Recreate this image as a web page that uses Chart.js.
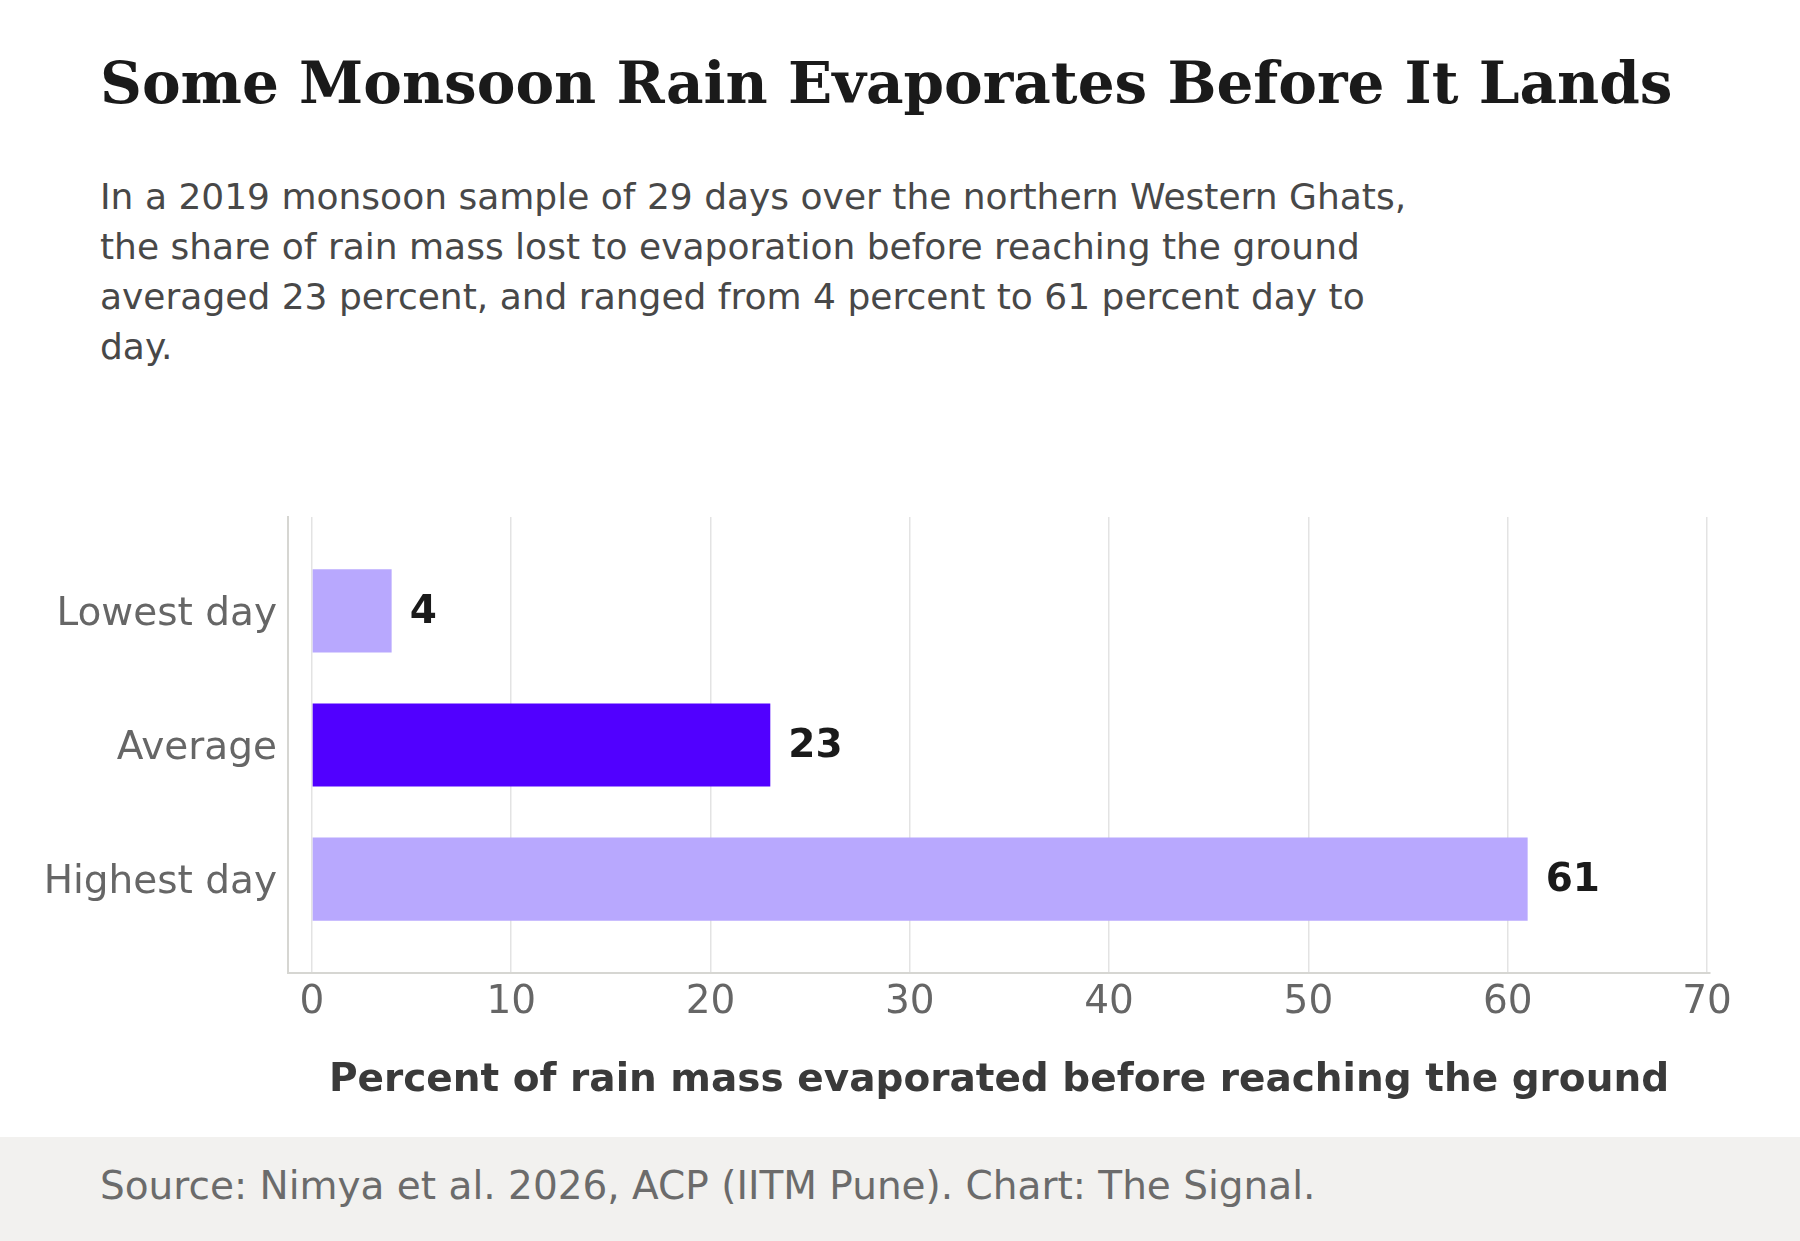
<!DOCTYPE html>
<html>
<head>
<meta charset="utf-8">
<script src="https://cdn.jsdelivr.net/npm/chart.js@4"></script>
<style>
  html, body { margin: 0; padding: 0; background: #ffffff; }
  body { width: 1800px; height: 1241px; position: relative; overflow: hidden; font-family: 'DejaVu Sans', sans-serif; }
  #title { position: absolute; left: 100px; top: 49px; margin: 0; font-family: 'DejaVu Serif', serif; font-weight: bold; font-size: 58px; line-height: normal; color: #1a1a1a; white-space: nowrap; }
  #subtitle { position: absolute; left: 100px; top: 172px; margin: 0; font-size: 36px; line-height: 50px; color: #484848; white-space: nowrap; }
  #footer { position: absolute; left: 0; top: 1137px; width: 1800px; height: 104px; background: #f2f1ef; }
  #source { position: absolute; left: 100px; top: 1163px; font-size: 39px; line-height: normal; color: #6b6b6b; white-space: nowrap; }
  #wrap { position: absolute; left: 0; top: 480px; width: 1800px; height: 657px; }
</style>
</head>
<body>
<h1 id="title">Some Monsoon Rain Evaporates Before It Lands</h1>
<p id="subtitle">In a 2019 monsoon sample of 29 days over the northern Western Ghats,<br>the share of rain mass lost to evaporation before reaching the ground<br>averaged 23 percent, and ranged from 4 percent to 61 percent day to<br>day.</p>
<div id="footer"></div>
<div id="source">Source: Nimya et al. 2026, ACP (IITM Pune). Chart: The Signal.</div>
<div id="wrap"><canvas id="c" width="1800" height="657"></canvas></div>
<script>
const categories = ['Lowest day', 'Average', 'Highest day'];
const values = [4, 23, 61];
const barColors = ['#b8a8fe', '#5100ff', '#b8a8fe'];
const xTicks = [0, 10, 20, 30, 40, 50, 60, 70];
const xAxisTitle = 'Percent of rain mass evaporated before reaching the ground';

const points = values.map((v, i) => ({ x: v, y: i }));

const valueLabels = {
  id: 'valueLabels',
  afterDatasetsDraw(chart) {
    const ctx = chart.ctx;
    const meta = chart.getDatasetMeta(0);
    ctx.save();
    ctx.font = 'bold 39px "DejaVu Sans"';
    ctx.fillStyle = '#1a1a1a';
    ctx.textAlign = 'left';
    ctx.textBaseline = 'middle';
    meta.data.forEach((bar, i) => {
      ctx.fillText(String(values[i]), bar.x + 18, bar.y + 1.5);
    });
    ctx.restore();
  }
};

new Chart(document.getElementById('c'), {
  type: 'bar',
  data: {
    datasets: [{
      data: points,
      backgroundColor: barColors,
      borderWidth: 0,
      barPercentage: 0.62,
      categoryPercentage: 1
    }]
  },
  options: {
    indexAxis: 'y',
    responsive: false,
    animation: false,
    devicePixelRatio: 1,
    layout: { padding: { top: 37, right: 90, bottom: 0, left: 0 } },
    plugins: { legend: { display: false }, tooltip: { enabled: false } },
    scales: {
      x: {
        type: 'linear',
        position: 'bottom',
        min: -1.2,
        max: 70.15,
        offset: false,
        afterBuildTicks: (s) => { s.ticks = xTicks.map(v => ({ value: v })); },
        afterFit: (s) => { s.height = 164; },
        grid: { display: true, color: '#e3e3e3', lineWidth: 1.5, drawTicks: false, offset: false },
        border: { display: true, color: '#d6d6d2', width: 2 },
        ticks: { color: '#666666', font: { family: 'DejaVu Sans', size: 39 }, padding: 6, maxRotation: 0 },
        title: { display: true, text: xAxisTitle, color: '#3a3a3a', font: { family: 'DejaVu Sans', size: 39, weight: 'bold' }, padding: { top: 0, bottom: 33 } }
      },
      y: {
        type: 'linear',
        position: 'left',
        reverse: true,
        min: -0.7,
        max: 2.7,
        offset: false,
        afterBuildTicks: (s) => { s.ticks = categories.map((c, i) => ({ value: i })); },
        afterFit: (s) => { s.width = 288; },
        grid: { display: false, drawTicks: false, offset: false },
        border: { display: true, color: '#d6d6d2', width: 2 },
        ticks: { color: '#666666', font: { family: 'DejaVu Sans', size: 39 }, padding: 11, labelOffset: 4, callback: (v) => categories[v] }
      }
    }
  },
  plugins: [valueLabels]
});
</script>
</body>
</html>
